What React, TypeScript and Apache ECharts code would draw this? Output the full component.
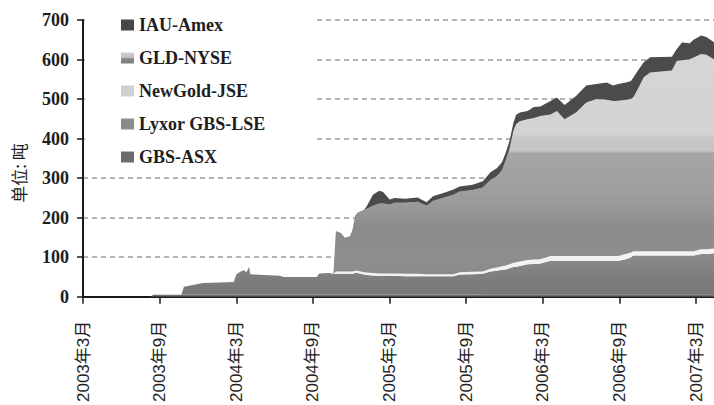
import React, { useEffect, useRef } from "react";
import * as echarts from "echarts";

// months since 2003-03 (x positions shared by every series)
const months = [
  0, 5.3, 5.5, 7.7, 7.9, 8.5, 9.4, 11.8, 12.0, 12.3, 12.6, 12.8, 13.0, 13.1, 15.4, 15.7, 18.3, 18.5, 19.2, 19.6,
  19.8, 20.2, 20.5, 20.9, 21.1, 21.3, 21.5, 22.0, 22.2, 22.7, 23.2, 23.5, 24.0, 24.4, 25.2, 26.2, 26.9, 27.4, 28.4, 29.0,
  29.5, 30.5, 31.3, 31.9, 32.4, 32.8, 33.1, 33.4, 33.7, 33.9, 34.2, 34.8, 35.3, 35.8, 36.6, 37.1, 37.7, 38.6, 39.4, 40.2,
  41.0, 41.5, 41.9, 42.5, 42.9, 43.1, 43.5, 43.9, 44.4, 46.1, 46.5, 46.9, 47.5, 47.8, 48.4, 48.8, 49.4,
];

const gbsAsx = [
  0, 0, 5, 5, 5, 5, 5, 5, 5, 5, 5, 5, 5, 5, 5, 5, 5, 5, 5, 5,
  5, 5, 5, 5, 5, 5, 5, 5, 5, 5, 5, 5, 5, 5, 5, 5, 5, 5, 5, 5,
  5, 5, 6, 6, 6, 6, 6, 6, 6, 6, 6, 6, 6, 6, 6, 6, 6, 6, 6, 6,
  6, 6, 6, 6, 6, 6, 6, 6, 6, 6, 6, 6, 6, 6, 6, 6, 6,
];

const lyxorLse = [
  0, 0, 0, 0, 20, 24, 30, 32, 51, 58, 62, 57, 71, 52, 48, 45, 45, 54, 55, 53,
  53, 53, 53, 53, 53, 55, 55, 51, 50, 49, 48, 48, 48, 48, 47, 47, 47, 47, 47, 47,
  51, 52, 52, 58, 60, 62, 63, 66, 69, 70, 72, 76, 77, 78, 85, 85, 85, 85, 85, 85,
  85, 85, 85, 89, 94, 98, 98, 98, 98, 98, 98, 98, 98, 98, 102, 102, 104,
];

const newGoldJse = [
  0, 0, 0, 0, 0, 0, 0, 0, 0, 0, 0, 0, 0, 0, 0, 0, 0, 0, 0, 0,
  6, 6, 6, 6, 6, 6, 6, 6, 6, 6, 6, 6, 6, 6, 6, 6, 5, 5, 5, 5,
  6, 6, 6, 7, 8, 9, 10, 10, 11, 11, 11, 11, 11, 11, 12, 12, 12, 12, 12, 12,
  12, 12, 12, 13, 12, 11, 11, 11, 11, 11, 11, 11, 11, 11, 12, 12, 12,
];

const gldNyse = [
  0, 0, 0, 0, 0, 0, 0, 0, 0, 0, 0, 0, 0, 0, 0, 0, 0, 0, 0, 0,
  102, 97, 85, 89, 106, 139, 147, 158, 161, 170, 177, 177, 174, 179, 180, 182, 173, 185, 195, 201,
  204, 207, 212, 224, 231, 243, 266, 293, 334, 349, 355, 356, 358, 362, 358, 367, 346, 363, 388, 397,
  395, 392, 393, 390, 388, 390, 414, 440, 452, 457, 482, 483, 486, 490, 494, 492, 479,
];

const iauAmex = [
  0, 0, 0, 0, 0, 0, 0, 0, 0, 0, 0, 0, 0, 0, 0, 0, 0, 0, 0, 0,
  0, 0, 0, 0, 0, 0, 0, 0, 6, 28, 32, 29, 13, 12, 10, 11, 9, 12, 12, 13,
  13, 13, 16, 20, 20, 20, 20, 20, 20, 24, 22, 21, 28, 24, 34, 34, 36, 42, 43, 38,
  44, 39, 42, 44, 46, 50, 46, 38, 39, 35, 30, 45, 40, 45, 47, 45, 43,
];

const seriesNames = ["GBS-ASX", "Lyxor GBS-LSE", "NewGold-JSE", "GLD-NYSE", "IAU-Amex"];
const legendOrder = ["IAU-Amex", "GLD-NYSE", "NewGold-JSE", "Lyxor GBS-LSE", "GBS-ASX"];
const xTickLabels = [
  "2003年3月", "2003年9月", "2004年3月", "2004年9月", "2005年3月",
  "2005年9月", "2006年3月", "2006年9月", "2007年3月",
];
const yTicks = [0, 100, 200, 300, 400, 500, 600, 700];

const W = 714;
const H = 405;
const GRID = { left: 83, right: 0, top: 20, bottom: 107 };
const SERIF = "Liberation Serif, DejaVu Serif, serif";
const X_MAX = 49.4;
const T0 = Date.UTC(2003, 2, 1);
const MONTH_MS = 30.4375 * 24 * 3600 * 1000;
const toTime = (m: number) => T0 + m * MONTH_MS;

export default function App() {
  const ref = useRef<HTMLDivElement>(null);

  useEffect(() => {
    if (!ref.current) return;
    const chart = echarts.init(ref.current, undefined, { renderer: "svg", width: W, height: H });
    const pair = (arr: number[]) => months.map((m, i) => [toTime(m), arr[i]]);
    const plotTop = GRID.top;
    const plotBottom = H - GRID.bottom;
    const gld = new echarts.graphic.LinearGradient(0, plotTop, 0, plotBottom, [
      { offset: 0, color: "#d6d6d6" },
      { offset: 0.41, color: "#d3d3d3" },
      { offset: 0.425, color: "#c8c8c8" },
      { offset: 0.47, color: "#c4c4c4" },
      { offset: 0.48, color: "#a6a6a6" },
      { offset: 0.62, color: "#9e9e9e" },
      { offset: 0.68, color: "#989898" },
      { offset: 0.75, color: "#8a8a8a" },
      { offset: 0.85, color: "#8e8e8e" },
      { offset: 1, color: "#888888" },
    ], true);
    const lse = new echarts.graphic.LinearGradient(0, plotTop, 0, plotBottom, [
      { offset: 0, color: "#8e8e8e" },
      { offset: 0.85, color: "#8a8a8a" },
      { offset: 0.93, color: "#7d7d7d" },
      { offset: 1, color: "#777777" },
    ], true);
    const colors: Record<string, any> = {
      "GBS-ASX": { item: "#6c6c6c", area: "#6e6e6e" },
      "Lyxor GBS-LSE": { item: "#8a8a8a", area: lse },
      "NewGold-JSE": { item: "#d0d0d0", area: "#f3f3f3" },
      "GLD-NYSE": {
        item: new echarts.graphic.LinearGradient(0, 0, 0, 1, [
          { offset: 0, color: "#d2d2d2" },
          { offset: 0.5, color: "#bdbdbd" },
          { offset: 0.55, color: "#8a8a8a" },
          { offset: 1, color: "#7a7a7a" },
        ]),
        area: gld,
      },
      "IAU-Amex": { item: "#474747", area: "#4b4b4b" },
    };
    const dataByName: Record<string, number[]> = {
      "GBS-ASX": gbsAsx,
      "Lyxor GBS-LSE": lyxorLse,
      "NewGold-JSE": newGoldJse,
      "GLD-NYSE": gldNyse,
      "IAU-Amex": iauAmex,
    };

    chart.setOption({
      animation: false,
      grid: { left: GRID.left, right: GRID.right, top: GRID.top, bottom: GRID.bottom, containLabel: false },
      legend: {
        data: legendOrder,
        orient: "vertical",
        left: 85,
        top: 3,
        icon: "rect",
        itemWidth: 13,
        itemHeight: 11,
        itemGap: 13,
        padding: [12, 50, 6, 36],
        backgroundColor: "#ffffff",
        textStyle: {
          fontFamily: SERIF,
          fontWeight: "bold",
          fontSize: 18,
          lineHeight: 20,
          color: "#1e1e1e",
        },
        selectedMode: false,
      },
      xAxis: [
        {
          // data axis (hidden): time in ms, same linear extent as the labelled axis
          type: "time",
          show: false,
          min: toTime(0),
          max: toTime(X_MAX),
        },
        {
          type: "value",
          position: "bottom",
          min: 0,
          max: X_MAX,
          interval: 6,
          axisLine: { show: true, onZero: false, lineStyle: { color: "#1a1a1a", width: 2 } },
          axisTick: { show: true, inside: false, length: 7, lineStyle: { color: "#1a1a1a", width: 1.5 } },
          splitLine: { show: false },
          axisLabel: {
            rotate: 90,
            margin: 24,
            padding: [8, 0, 0, 0],
            showMaxLabel: false,
            fontFamily: "Liberation Sans, Noto Sans CJK SC, sans-serif",
            fontSize: 17,
            color: "#1e1e1e",
            formatter: (v: number) => {
              const i = Math.round(v / 6);
              return Math.abs(v - i * 6) < 1e-6 && xTickLabels[i] ? xTickLabels[i] : "";
            },
          },
        },
      ],
      yAxis: {
        type: "value",
        min: yTicks[0],
        max: yTicks[yTicks.length - 1],
        interval: 100,
        axisLine: { show: true, lineStyle: { color: "#1a1a1a", width: 2 } },
        axisTick: { show: true, inside: false, length: 6, lineStyle: { color: "#1a1a1a", width: 1.5 } },
        axisLabel: {
          margin: 14,
          fontFamily: SERIF,
          fontWeight: "bold",
          fontSize: 18,
          color: "#1e1e1e",
        },
        splitLine: { show: true, lineStyle: { color: "#9a9a9a", width: 1.5, type: [5, 4] } },
      },
      graphic: [
        {
          type: "text",
          x: 18,
          y: 173,
          rotation: Math.PI / 2,
          style: {
            text: "单位: 吨",
            fontFamily: "Noto Sans CJK SC",
            fontSize: 17,
            fill: "#1e1e1e",
            align: "center",
            verticalAlign: "middle",
          },
        },
      ],
      series: seriesNames.map((name) => ({
        name,
        type: "line",
        stack: "total",
        xAxisIndex: 0,
        data: pair(dataByName[name]),
        symbol: "none",
        showSymbol: false,
        smooth: false,
        lineStyle: { width: 0, opacity: 0 },
        itemStyle: { color: colors[name].item },
        areaStyle: { color: colors[name].area, opacity: 1 },
        emphasis: { disabled: true },
        z: 2,
      })),
    });
    return () => chart.dispose();
  }, []);

  return (
    <div
      ref={ref}
      style={{ position: "absolute", left: 0, top: 0, width: W, height: H, background: "#fff" }}
    />
  );
}
